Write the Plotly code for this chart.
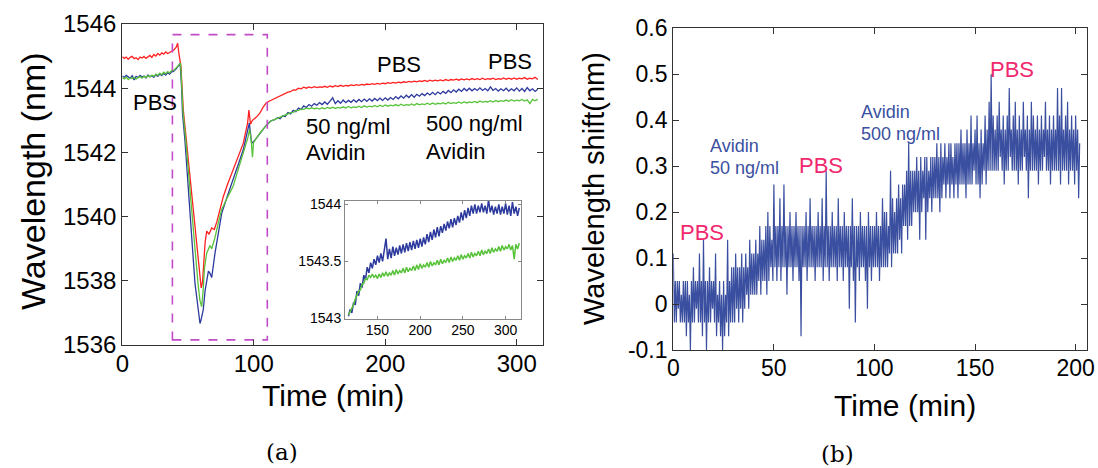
import plotly.graph_objects as go

# ---------------- Panel (a) data ----------------
T_PRE = [i * 1.5 for i in range(26)]
RED_PRE = [1544.98, 1544.93, 1544.97, 1544.90, 1544.96, 1544.99, 1544.92, 1544.95, 1544.89, 1544.97,
           1544.94, 1544.99, 1544.93, 1544.97, 1545.02, 1544.96, 1545.05, 1545.00, 1545.08, 1545.03,
           1545.10, 1545.06, 1545.13, 1545.08, 1545.12, 1545.16]
BLUE_PRE = [1544.38, 1544.34, 1544.40, 1544.36, 1544.31, 1544.39, 1544.26, 1544.37, 1544.33, 1544.40,
            1544.35, 1544.38, 1544.32, 1544.41, 1544.36, 1544.39, 1544.34, 1544.42, 1544.37, 1544.44,
            1544.39, 1544.46, 1544.41, 1544.48, 1544.44, 1544.51]
GREEN_PRE = [1544.33, 1544.29, 1544.35, 1544.27, 1544.32, 1544.30, 1544.34, 1544.28, 1544.33, 1544.36,
             1544.31, 1544.37, 1544.33, 1544.39, 1544.35, 1544.41, 1544.37, 1544.44, 1544.40, 1544.47,
             1544.42, 1544.50, 1544.45, 1544.52, 1544.48, 1544.55]

RED_DIP_T = [39, 41, 42.1, 43, 44.6, 46.4, 48, 50, 52, 54, 56, 58, 59.3, 60, 61, 62, 63, 64.2, 66, 68,
             70, 72, 74, 76.8, 80, 84.4, 88, 92, 95.3, 96.3, 97.5, 99, 102, 104.6, 107, 109.6, 112, 114]
RED_DIP = [1545.18, 1545.28, 1545.40, 1545.10, 1544.67, 1543.32, 1542.66, 1541.84, 1541.00, 1540.20,
           1539.40, 1538.55, 1538.00, 1537.78, 1537.95, 1538.60, 1539.20, 1539.55, 1539.45, 1539.65,
           1539.60, 1539.85, 1540.20, 1540.62, 1541.00, 1541.45, 1541.85, 1542.28, 1542.91, 1543.32,
           1542.88, 1543.00, 1543.10, 1543.22, 1543.40, 1543.55, 1543.60, 1543.64]

BLUE_DIP_T = [39, 41, 43, 44, 45, 45.8, 47.7, 49.5, 51.5, 53.5, 55.3, 57, 58.3, 59.1, 60, 61.6, 63, 64.2,
              65.5, 66.7, 68, 70.5, 73, 75.6, 80, 84.4, 88, 92, 95, 96.6, 97.5, 98.4, 101, 105, 109.6, 113]
BLUE_DIP = [1544.52, 1544.60, 1544.70, 1544.77, 1544.10, 1543.22, 1542.35, 1541.20, 1540.10, 1538.95,
            1537.92, 1537.30, 1536.80, 1536.67, 1536.80, 1537.10, 1537.70, 1538.02, 1538.30, 1538.23,
            1538.10, 1538.86, 1539.50, 1540.10, 1540.65, 1541.14, 1541.60, 1542.08, 1542.60, 1542.91,
            1542.60, 1542.28, 1542.39, 1542.62, 1542.85, 1542.98]

GREEN_DIP_T = [39, 41, 43, 44.3, 45.2, 46.2, 48, 50, 52, 54, 56, 57.5, 59, 60.4, 61.5, 62.5, 64.2, 66.7,
               68, 70.5, 73, 75.6, 80, 84.4, 88, 92, 95.5, 96.8, 98, 99, 99.8, 101, 105, 109.6, 113]
GREEN_DIP = [1544.55, 1544.62, 1544.72, 1544.78, 1544.20, 1543.25, 1542.50, 1541.55, 1540.50, 1539.50,
             1538.60, 1537.95, 1537.40, 1537.19, 1537.70, 1538.40, 1538.86, 1539.10, 1539.00, 1539.35,
             1539.80, 1540.22, 1540.60, 1540.95, 1541.45, 1541.95, 1542.45, 1542.72, 1542.40, 1541.85,
             1542.30, 1542.38, 1542.62, 1542.85, 1542.98]

T_LATE = list(range(116, 317, 2))
RED_LATE = [1543.68, 1543.73, 1543.75, 1543.81, 1543.83, 1543.88, 1543.89, 1543.95, 1543.94, 1544.00,
            1543.98, 1544.03, 1544.00, 1544.04, 1544.01, 1544.05, 1544.02, 1544.04, 1544.03, 1544.06,
            1544.03, 1544.07, 1544.04, 1544.08, 1544.05, 1544.09, 1544.06, 1544.09, 1544.07, 1544.10,
            1544.08, 1544.11, 1544.09, 1544.12, 1544.10, 1544.13, 1544.11, 1544.14, 1544.12, 1544.15,
            1544.13, 1544.16, 1544.14, 1544.17, 1544.15, 1544.18, 1544.16, 1544.19, 1544.17, 1544.20,
            1544.18, 1544.21, 1544.19, 1544.22, 1544.20, 1544.23, 1544.21, 1544.24, 1544.21, 1544.25,
            1544.22, 1544.25, 1544.23, 1544.26, 1544.23, 1544.27, 1544.24, 1544.27, 1544.25, 1544.28,
            1544.25, 1544.29, 1544.26, 1544.29, 1544.26, 1544.30, 1544.27, 1544.30, 1544.27, 1544.31,
            1544.27, 1544.30, 1544.28, 1544.31, 1544.27, 1544.30, 1544.28, 1544.32, 1544.28, 1544.31,
            1544.28, 1544.32, 1544.28, 1544.31, 1544.29, 1544.33, 1544.28, 1544.31, 1544.29, 1544.34,
            1544.27]
BLUE_LATE = [1543.02, 1543.08, 1543.05, 1543.14, 1543.12, 1543.24, 1543.20, 1543.31, 1543.27, 1543.38,
             1543.34, 1543.45, 1543.40, 1543.49, 1543.44, 1543.52, 1543.47, 1543.55, 1543.49, 1543.57,
             1543.50, 1543.60, 1543.70, 1543.52, 1543.61, 1543.53, 1543.63, 1543.55, 1543.62, 1543.56,
             1543.64, 1543.57, 1543.65, 1543.58, 1543.66, 1543.59, 1543.67, 1543.60, 1543.68, 1543.61,
             1543.69, 1543.62, 1543.70, 1543.63, 1543.71, 1543.65, 1543.74, 1543.67, 1543.76, 1543.69,
             1543.78, 1543.71, 1543.80, 1543.72, 1543.81, 1543.75, 1543.83, 1543.77, 1543.85, 1543.79,
             1543.87, 1543.80, 1543.88, 1543.82, 1543.90, 1543.84, 1543.93, 1543.86, 1543.95, 1543.88,
             1543.97, 1543.90, 1543.99, 1543.92, 1544.00, 1543.92, 1543.99, 1543.93, 1544.01, 1543.93,
             1543.99, 1543.92, 1544.04, 1543.93, 1543.99, 1543.91, 1543.98, 1543.92, 1544.00, 1543.91,
             1543.98, 1543.92, 1544.01, 1543.91, 1543.99, 1543.90, 1544.02, 1543.92, 1543.98, 1543.90,
             1543.97]
GREEN_LATE = [1543.03, 1543.06, 1543.10, 1543.12, 1543.17, 1543.20, 1543.24, 1543.25, 1543.30, 1543.31,
              1543.35, 1543.34, 1543.38, 1543.36, 1543.39, 1543.36, 1543.38, 1543.35, 1543.39, 1543.36,
              1543.40, 1543.37, 1543.41, 1543.37, 1543.40, 1543.38, 1543.42, 1543.38, 1543.43, 1543.39,
              1543.42, 1543.40, 1543.44, 1543.40, 1543.45, 1543.41, 1543.44, 1543.42, 1543.46, 1543.42,
              1543.47, 1543.43, 1543.48, 1543.44, 1543.47, 1543.45, 1543.49, 1543.45, 1543.50, 1543.46,
              1543.49, 1543.47, 1543.51, 1543.47, 1543.52, 1543.48, 1543.51, 1543.49, 1543.53, 1543.49,
              1543.54, 1543.50, 1543.53, 1543.51, 1543.55, 1543.51, 1543.56, 1543.52, 1543.55, 1543.53,
              1543.57, 1543.53, 1543.58, 1543.54, 1543.57, 1543.55, 1543.59, 1543.55, 1543.60, 1543.56,
              1543.59, 1543.57, 1543.61, 1543.57, 1543.62, 1543.58, 1543.61, 1543.59, 1543.63, 1543.59,
              1543.64, 1543.60, 1543.63, 1543.61, 1543.65, 1543.60, 1543.64, 1543.52, 1543.65, 1543.61,
              1543.66]

A_XTICKS = [0, 100, 200, 300]
A_YTICKS = [1536, 1538, 1540, 1542, 1544, 1546]
INSET_XTICKS = [150, 200, 250, 300]
INSET_YTICKS = [1543, 1543.5, 1544]
INSET_YLABELS = ["1543", "1543.5", "1544"]

# ---------------- Panel (b) data ----------------
T_B = [i * 0.5 for i in range(405)]
SHIFT_B = [
    0.11, -0.04, 0.05, -0.04, 0.05, -0.01, 0.05, -0.04, 0.02, -0.04,
    0.05, -0.04, 0.05, -0.07, 0.05, -0.04, 0.02, -0.10, 0.05, -0.04,
    0.08, -0.04, 0.05, -0.01, 0.05, -0.04, 0.11, -0.04, 0.05, -0.07,
    0.14, -0.04, 0.05, -0.10, 0.05, -0.04, 0.08, -0.04, 0.05, -0.01,
    0.05, -0.04, 0.11, -0.07, 0.02, -0.04, 0.05, -0.07, 0.02, -0.10,
    0.05, -0.07, 0.02, -0.04, 0.14, -0.07, 0.05, -0.04, 0.08, -0.04,
    0.08, -0.04, 0.11, -0.01, 0.08, -0.04, 0.08, -0.01, 0.11, -0.04,
    0.08, -0.01, 0.11, 0.02, 0.08, -0.01, 0.14, 0.02, 0.11, 0.02,
    0.11, 0.02, 0.14, 0.02, 0.11, 0.05, 0.17, 0.02, 0.14, 0.05,
    0.14, 0.05, 0.17, 0.02, 0.20, 0.05, 0.17, 0.08, 0.14, 0.05,
    0.26, 0.08, 0.17, 0.05, 0.17, 0.08, 0.23, 0.05, 0.17, 0.08,
    0.26, 0.08, 0.17, 0.02, 0.17, 0.08, 0.20, 0.08, 0.17, 0.05,
    0.17, 0.08, 0.20, 0.08, 0.17, 0.05, 0.17, -0.07, 0.17, 0.08,
    0.17, 0.08, 0.20, 0.05, 0.17, 0.08, 0.23, 0.08, 0.17, 0.08,
    0.17, 0.05, 0.17, 0.08, 0.20, 0.08, 0.17, 0.08, 0.23, 0.05,
    0.17, 0.08, 0.29, 0.08, 0.17, 0.05, 0.17, 0.08, 0.20, 0.08,
    0.17, 0.08, 0.17, 0.05, 0.23, 0.08, 0.17, 0.08, 0.17, 0.05,
    0.20, 0.08, 0.17, 0.08, 0.17, -0.01, 0.17, 0.08, 0.23, 0.05,
    0.17, -0.04, 0.17, 0.08, 0.17, 0.05, 0.20, 0.08, 0.17, 0.08,
    0.17, 0.05, 0.17, -0.01, 0.20, 0.08, 0.17, 0.05, 0.17, 0.08,
    0.17, 0.08, 0.20, 0.08, 0.17, 0.05, 0.17, 0.08, 0.23, 0.08,
    0.20, 0.08, 0.20, 0.08, 0.17, 0.11, 0.29, 0.08, 0.23, 0.11,
    0.20, 0.11, 0.23, 0.11, 0.26, 0.14, 0.23, 0.11, 0.26, 0.17,
    0.26, 0.17, 0.29, 0.14, 0.35, 0.17, 0.29, 0.17, 0.29, 0.20,
    0.29, 0.20, 0.32, 0.20, 0.29, 0.14, 0.32, 0.20, 0.29, 0.23,
    0.32, 0.14, 0.32, 0.20, 0.29, 0.23, 0.32, 0.20, 0.32, 0.23,
    0.32, 0.23, 0.35, 0.23, 0.32, 0.20, 0.35, 0.23, 0.32, 0.26,
    0.35, 0.23, 0.32, 0.26, 0.35, 0.23, 0.35, 0.26, 0.32, 0.23,
    0.35, 0.26, 0.35, 0.23, 0.35, 0.26, 0.38, 0.26, 0.35, 0.26,
    0.35, 0.23, 0.38, 0.26, 0.35, 0.26, 0.41, 0.26, 0.35, 0.29,
    0.38, 0.26, 0.41, 0.26, 0.35, 0.23, 0.38, 0.26, 0.35, 0.29,
    0.41, 0.26, 0.38, 0.29, 0.44, 0.29, 0.50, 0.29, 0.41, 0.29,
    0.38, 0.29, 0.41, 0.29, 0.44, 0.32, 0.38, 0.29, 0.41, 0.26,
    0.38, 0.29, 0.41, 0.29, 0.47, 0.32, 0.38, 0.29, 0.41, 0.29,
    0.44, 0.29, 0.38, 0.26, 0.41, 0.29, 0.38, 0.29, 0.44, 0.32,
    0.38, 0.29, 0.41, 0.23, 0.38, 0.29, 0.44, 0.29, 0.41, 0.29,
    0.38, 0.29, 0.41, 0.26, 0.38, 0.29, 0.41, 0.29, 0.38, 0.32,
    0.44, 0.29, 0.38, 0.29, 0.41, 0.26, 0.38, 0.29, 0.41, 0.29,
    0.38, 0.29, 0.47, 0.29, 0.41, 0.26, 0.47, 0.29, 0.38, 0.29,
    0.41, 0.29, 0.44, 0.26, 0.38, 0.29, 0.41, 0.29, 0.38, 0.26,
    0.41, 0.29, 0.38, 0.23, 0.35,
]
B_XTICKS = [0, 50, 100, 150, 200]
B_YTICKS = [-0.1, 0, 0.1, 0.2, 0.3, 0.4, 0.5, 0.6]
B_YLABELS = ["-0.1", "0", "0.1", "0.2", "0.3", "0.4", "0.5", "0.6"]

# ---------------- styling ----------------
W, H = 1098, 468
FONT = "Liberation Sans, Arial, sans-serif"
SERIF = "DejaVu Serif, Liberation Serif, serif"
RED = "#FF1F1F"
BLUE = "#2C3A9E"
GREEN = "#58C23A"
BBLUE = "#3A4FA0"
PINK = "#F0286E"
BOX = "#C24BC8"


def px(x):
    return x / W


def py(y):
    return 1 - y / H


fig = go.Figure()

red_t = T_PRE + RED_DIP_T + T_LATE
red_y = RED_PRE + RED_DIP + RED_LATE
blue_t = T_PRE + BLUE_DIP_T + T_LATE
blue_y = BLUE_PRE + BLUE_DIP + BLUE_LATE
green_t = T_PRE + GREEN_DIP_T + T_LATE
green_y = GREEN_PRE + GREEN_DIP + GREEN_LATE

for t, y, c in [(red_t, red_y, RED), (blue_t, blue_y, BLUE), (green_t, green_y, GREEN)]:
    fig.add_trace(go.Scatter(x=t, y=y, mode="lines", line=dict(color=c, width=1.3),
                             xaxis="x", yaxis="y", showlegend=False, hoverinfo="skip"))

# inset (same blue/green data, later part)
for t, y, c in [(T_LATE, BLUE_LATE, BLUE), (T_LATE, GREEN_LATE, GREEN)]:
    fig.add_trace(go.Scatter(x=t, y=y, mode="lines", line=dict(color=c, width=1.5),
                             xaxis="x2", yaxis="y2", showlegend=False, hoverinfo="skip"))

fig.add_trace(go.Scatter(x=T_B, y=SHIFT_B, mode="lines", line=dict(color=BBLUE, width=1.2),
                         xaxis="x3", yaxis="y3", showlegend=False, hoverinfo="skip"))

axis_common = dict(showgrid=False, zeroline=False, showline=True, linecolor="#333333",
                   linewidth=1.3, mirror="ticks", ticks="inside", tickcolor="#333333",
                   automargin=False)
inset_common = dict(showgrid=False, zeroline=False, showline=True, linecolor="#888888",
                    linewidth=1, mirror="ticks", ticks="inside", tickcolor="#888888",
                    automargin=False, ticklen=3, tickfont=dict(size=14))

fig.update_layout(
    width=W, height=H, autosize=False,
    margin=dict(l=0, r=0, t=0, b=0),
    paper_bgcolor="white", plot_bgcolor="white",
    font=dict(family=FONT, color="black"),
    xaxis=dict(domain=[px(122.3), px(543)], range=[0, 320], anchor="y",
               tickvals=A_XTICKS, ticklen=6, tickfont=dict(size=24),
               ticklabelstandoff=-3, **axis_common),
    yaxis=dict(domain=[py(345), py(24)], range=[1536, 1546], anchor="x",
               tickvals=A_YTICKS, ticklen=6, tickfont=dict(size=24),
               ticklabelstandoff=0, **axis_common),
    xaxis2=dict(domain=[px(345), px(521)], range=[112, 318], anchor="y2",
                tickvals=INSET_XTICKS, ticklabelstandoff=-1, **inset_common),
    yaxis2=dict(domain=[py(318.5), py(201)], range=[1543, 1544.03], anchor="x2",
                tickvals=INSET_YTICKS, ticktext=INSET_YLABELS, ticklabelstandoff=0,
                **inset_common),
    xaxis3=dict(domain=[px(673.3), px(1086.7)], range=[0, 205.5], anchor="y3",
                tickvals=B_XTICKS, ticklen=6, tickfont=dict(size=23),
                ticklabelstandoff=-3, **axis_common),
    yaxis3=dict(domain=[py(350), py(28.3)], range=[-0.1, 0.6], anchor="x3",
                tickvals=B_YTICKS, ticktext=B_YLABELS, ticklen=6, tickfont=dict(size=23),
                ticklabelstandoff=0, **axis_common),
)

# dashed highlight box in panel (a)
BOX_T = [38.1, 110.3]
BOX_W = [1536.16, 1545.67]
fig.add_shape(type="rect", xref="x", yref="y", x0=BOX_T[0], x1=BOX_T[1], y0=BOX_W[0], y1=BOX_W[1],
              line=dict(color=BOX, width=1.6, dash="dash"), fillcolor="rgba(0,0,0,0)")


def ann(text, x, y, size, color="black", xanchor="center", angle=0, family=FONT):
    fig.add_annotation(text=text, x=px(x), y=py(y), xref="paper", yref="paper",
                       showarrow=False, xanchor=xanchor, yanchor="middle", textangle=angle,
                       font=dict(size=size, color=color, family=family))


# panel (a) titles
ann("Wavelength (nm)", 33, 181, 34, angle=-90)
ann("Time (min)", 333, 395, 30)
ann("(a)", 282, 452, 23, family=SERIF)
# panel (a) labels
ann("PBS", 155, 102, 22)
ann("PBS", 399, 65, 22)
ann("PBS", 510, 62, 22)
ann("50 ng/ml", 304, 127, 22, xanchor="left")
ann("Avidin", 304, 153, 22, xanchor="left")
ann("500 ng/ml", 424, 124, 22, xanchor="left")
ann("Avidin", 424, 152, 22, xanchor="left")

# panel (b) titles
ann("Wavelength shift(nm)", 594, 189, 29, angle=-90)
ann("Time (min)", 905, 405, 30)
ann("(b)", 837, 454, 23, family=SERIF)
# panel (b) labels
ann("PBS", 702, 232, 22, color=PINK)
ann("Avidin", 708, 146, 18, color=BBLUE, xanchor="left")
ann("50 ng/ml", 708, 168, 18, color=BBLUE, xanchor="left")
ann("PBS", 821, 165, 22, color=PINK)
ann("Avidin", 859, 112, 18, color=BBLUE, xanchor="left")
ann("500 ng/ml", 859, 134, 18, color=BBLUE, xanchor="left")
ann("PBS", 1012, 69, 22, color=PINK)

fig.write_html("out.html", config={"displayModeBar": False},
               post_script="document.body.style.margin='0';document.body.style.overflow='hidden';")
